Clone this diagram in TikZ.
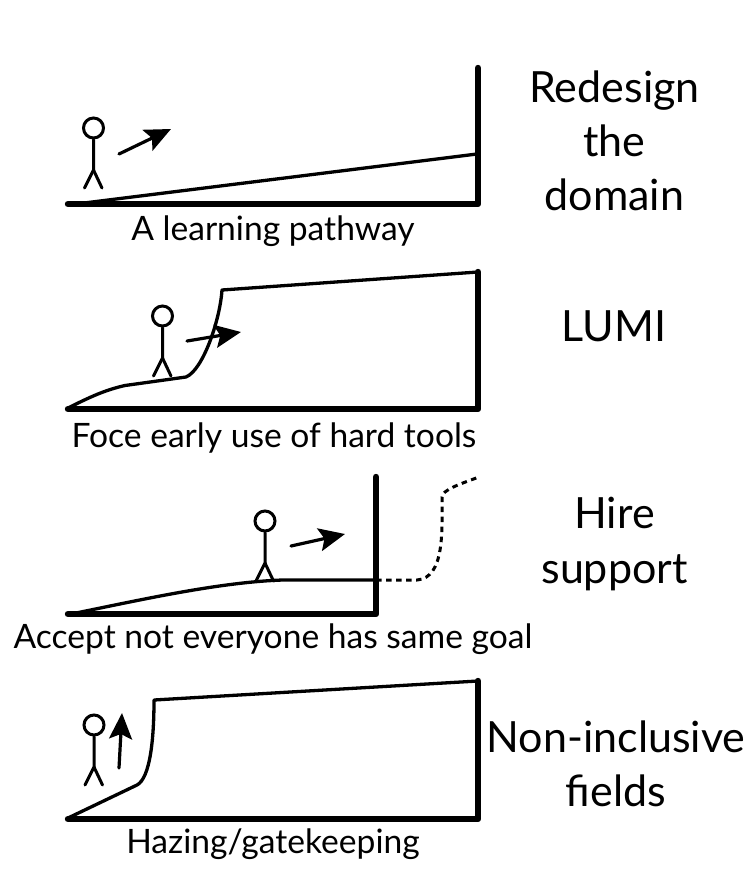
\documentclass[tikz,border=0pt]{standalone}
\usepackage{fontspec}
\setmainfont{Lato}
\usetikzlibrary{arrows.meta}
\tikzset{
  x=1pt,y=-1pt,
  wall/.style={line width=6.4pt,line cap=round,line join=round},
  ramp/.style={line width=3.3pt,line join=round},
  figure line/.style={line width=3pt,line cap=round},
  move/.style={line width=3.2pt,line cap=round,-{Stealth[length=26pt,width=23pt,inset=5pt]}},
  off/.style={line width=3pt,dash pattern=on 5.5pt off 4.5pt},
  cap label/.style={anchor=base,font=\fontsize{33.6}{33.6}\selectfont,inner sep=0pt},
  side label/.style={anchor=base,font=\fontsize{43}{43}\selectfont,inner sep=0pt},
}
\newcommand{\stick}[3]{% name, head x, head y
  \node[circle,draw,line width=3pt,minimum size=20pt,inner sep=0pt] (#1h) at (#2,#3) {};
  \coordinate (#1w) at (#2,#3+42);
  \coordinate (#1l) at (#2-9,#3+60);
  \coordinate (#1r) at (#2+8.5,#3+60);
  \draw[figure line] (#1h.south) -- (#1w) -- (#1l);
  \draw[figure line] (#1w) -- (#1r);
}
\begin{document}
\begin{tikzpicture}
\useasboundingbox (0,0) rectangle (751,887);
% panel 1
\coordinate (b1a) at (68,204); \coordinate (b1b) at (478,204); \coordinate (b1c) at (478,68);
\coordinate (r1a) at (80,203.5); \coordinate (r1b) at (477,154);
\draw[ramp] (r1a) -- (r1b);
\draw[wall] (b1a) -- (b1b) -- (b1c);
\stick{p1}{93.5}{128}
\coordinate (a1a) at (119,154); \coordinate (a1b) at (171,129);
\draw[move] (a1a) -- (a1b);
\node[cap label] (c1) at (273,240) {A learning pathway};
\node[side label] (s1a) at (614.5,102.5) {Redesign};
\node[side label] (s1b) at (614.5,156.5) {the};
\node[side label] (s1c) at (614.5,210.5) {domain};
% panel 2
\coordinate (b2a) at (68,409); \coordinate (b2b) at (478,409); \coordinate (b2c) at (478,272);
\coordinate (r2a) at (68,408); \coordinate (r2b) at (186,377); \coordinate (r2c) at (222,290); \coordinate (r2d) at (478,272);
\draw[ramp] (r2a) .. controls (90,397) and (105,390) .. (125,385.5) -- (r2b) .. controls (203,370) and (220,320) .. (r2c) -- (r2d);
\draw[wall] (b2a) -- (b2b) -- (b2c);
\stick{p2}{162.5}{316}
\coordinate (a2a) at (187,341); \coordinate (a2b) at (241,332);
\draw[move] (a2a) -- (a2b);
\node[cap label] (c2) at (274,447) {Foce early use of hard tools};
\node[side label] (s2) at (614,341.5) {LUMI};
% panel 3
\coordinate (b3a) at (68,614); \coordinate (b3b) at (376,614); \coordinate (b3c) at (376,477);
\coordinate (r3a) at (76,613); \coordinate (r3b) at (283,580); \coordinate (r3c) at (376,580);
\coordinate (d3a) at (417,580); \coordinate (d3b) at (443,495); \coordinate (d3c) at (479,477);
\draw[ramp] (r3a) .. controls (140,600) and (220,582) .. (r3b) -- (r3c);
\draw[off] (r3c) -- (d3a) .. controls (445,578) and (442,530) .. (442,497) .. controls (442,490) and (460,484) .. (d3c);
\draw[wall] (b3a) -- (b3b) -- (b3c);
\stick{p3}{265}{521}
\coordinate (a3a) at (291,546); \coordinate (a3b) at (345,534);
\draw[move] (a3a) -- (a3b);
\node[cap label] (c3) at (273,648) {Accept not everyone has same goal};
\node[side label] (s3a) at (614.5,528.5) {Hire};
\node[side label] (s3b) at (614.5,583.5) {support};
% panel 4
\coordinate (b4a) at (68,819); \coordinate (b4b) at (478,819); \coordinate (b4c) at (478,681);
\coordinate (r4a) at (68,818); \coordinate (r4b) at (137,785); \coordinate (r4c) at (154,700); \coordinate (r4d) at (478,681);
\draw[ramp] (r4a) -- (r4b) .. controls (150,778) and (154,740) .. (r4c) -- (r4d);
\draw[wall] (b4a) -- (b4b) -- (b4c);
\stick{p4}{94}{725}
\coordinate (a4a) at (119,768); \coordinate (a4b) at (122,713);
\draw[move] (a4a) -- (a4b);
\node[cap label] (c4) at (273,853) {Hazing/gatekeeping};
\node[side label] (s4a) at (616,752.5) {Non-inclusive};
\node[side label] (s4b) at (616,806.5) {fields};
\end{tikzpicture}
\end{document}
